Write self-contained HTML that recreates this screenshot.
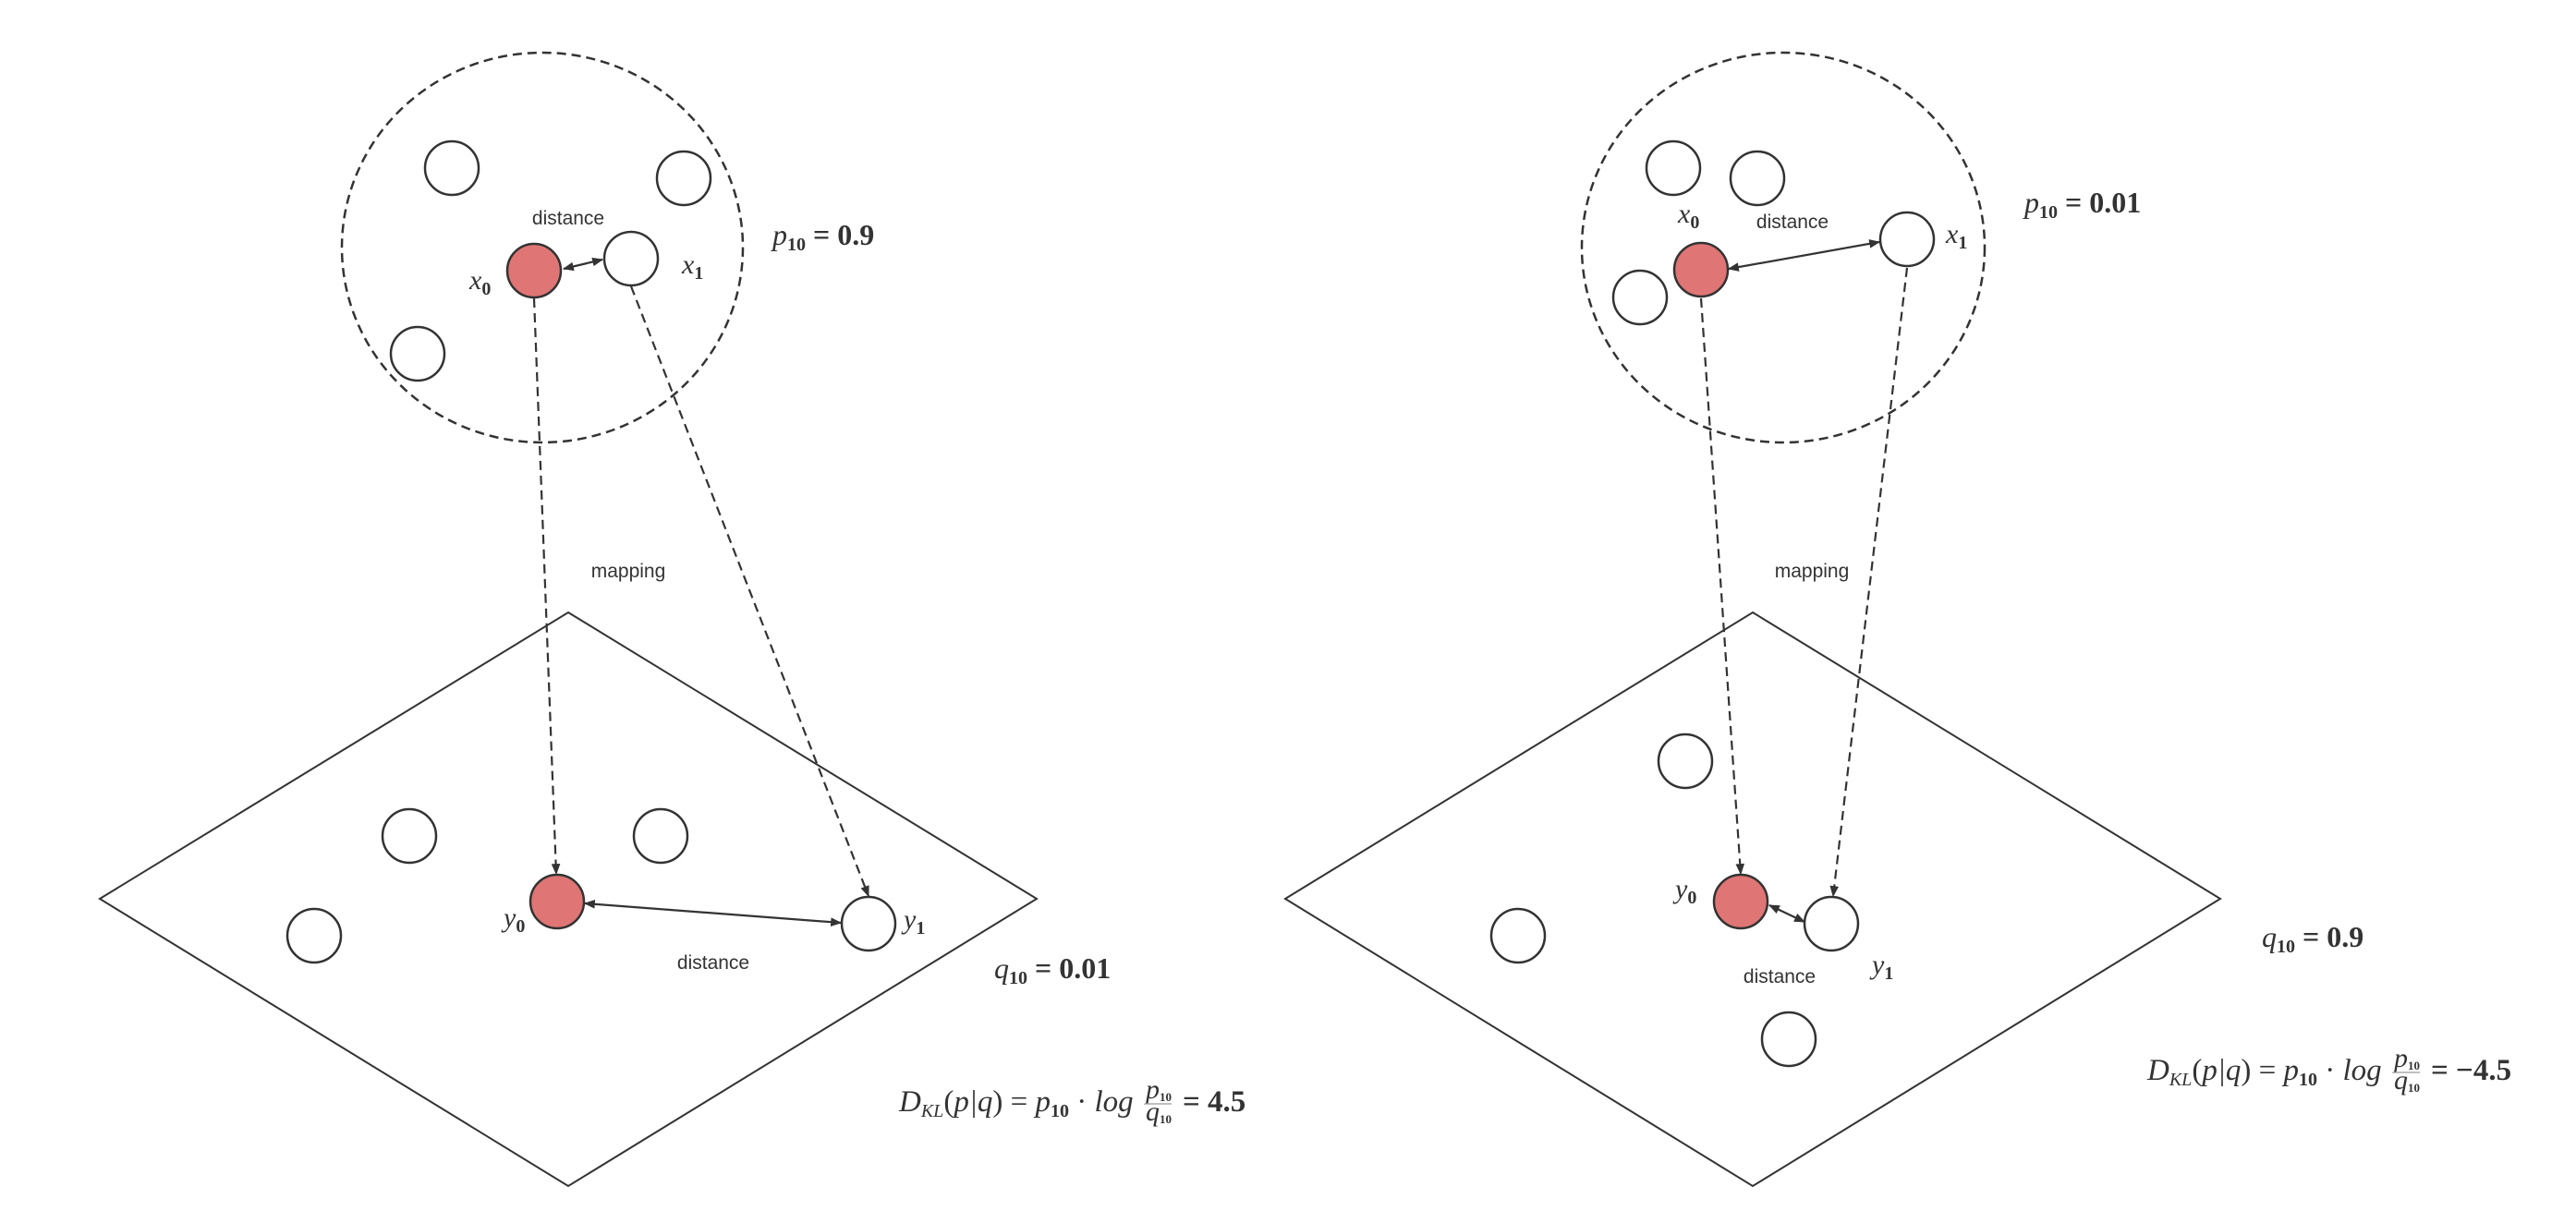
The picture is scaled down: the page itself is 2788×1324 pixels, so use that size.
<!DOCTYPE html>
<html><head><meta charset="utf-8"><style>
html,body{margin:0;padding:0;background:#fff;}
svg{display:block;}
.l{font-family:"Liberation Sans",sans-serif;font-size:21px;fill:#333;}
.m{font-family:"Liberation Serif",serif;font-style:italic;font-size:30px;fill:#333;}
.e{font-size:32px;}
.f{font-size:33px;}
.b{font-style:normal;font-weight:bold;}
.s{font-size:20px;}
</style></head><body>
<svg width="2788" height="1324" viewBox="0 0 2788 1324" xmlns="http://www.w3.org/2000/svg">
<defs>
<marker id="A" viewBox="0 0 10 10" refX="9" refY="5" markerWidth="16" markerHeight="12" orient="auto-start-reverse" markerUnits="userSpaceOnUse"><path d="M0,1 L10,5 L0,9 z" fill="#333"/></marker>
</defs>
<g fill="none" stroke="#333" stroke-width="2.5">
<ellipse cx="587" cy="268" rx="217" ry="211" stroke-dasharray="10,6"/>
<polygon points="615,663 1122,973 615,1284 108,973" stroke-width="2"/>
<ellipse cx="1930" cy="268" rx="218" ry="211" stroke-dasharray="10,6"/>
<polygon points="1897,663 2403,973 1897,1284 1391,973" stroke-width="2"/>
</g>
<g fill="#fff" stroke="#333" stroke-width="2.5">
<circle cx="489" cy="182" r="29"/><circle cx="740" cy="193" r="29"/>
<circle cx="683" cy="280" r="29"/><circle cx="452" cy="383" r="29"/>
<circle cx="443" cy="905" r="29"/><circle cx="715" cy="905" r="29"/><circle cx="340" cy="1013" r="29"/>
<circle cx="940" cy="1000" r="29"/>
<circle cx="603" cy="976" r="29" fill="#e07575"/>
<circle cx="578" cy="293" r="29" fill="#e07575"/>

<circle cx="1811" cy="182" r="29"/><circle cx="1902" cy="193" r="29"/>
<circle cx="2064" cy="259" r="29"/><circle cx="1775" cy="322" r="29"/>
<circle cx="1824" cy="824" r="29"/><circle cx="1643" cy="1013" r="29"/><circle cx="1936" cy="1125" r="29"/>
<circle cx="1982" cy="1000" r="29"/>
<circle cx="1884" cy="976" r="29" fill="#e07575"/>
<circle cx="1841" cy="292" r="29" fill="#e07575"/>
</g>
<g fill="none" stroke="#333" stroke-width="2.2">
<line x1="578" y1="323" x2="602" y2="946" stroke-dasharray="10,6" marker-end="url(#A)"/>
<line x1="683" y1="310" x2="940" y2="970" stroke-dasharray="10,6" marker-end="url(#A)"/>
<line x1="610" y1="291" x2="652" y2="281" marker-start="url(#A)" marker-end="url(#A)"/>
<line x1="633" y1="978" x2="910" y2="999" marker-start="url(#A)" marker-end="url(#A)"/>

<line x1="1841" y1="323" x2="1884" y2="946" stroke-dasharray="10,6" marker-end="url(#A)"/>
<line x1="2064" y1="290" x2="1984" y2="970" stroke-dasharray="10,6" marker-end="url(#A)"/>
<line x1="1871" y1="291" x2="2034" y2="262" marker-start="url(#A)" marker-end="url(#A)"/>
<line x1="1915" y1="980" x2="1953" y2="998" marker-start="url(#A)" marker-end="url(#A)"/>
</g>
<text class="l" x="615" y="243" text-anchor="middle">distance</text>
<text class="l" x="680" y="625" text-anchor="middle">mapping</text>
<text class="l" x="772" y="1049" text-anchor="middle">distance</text>
<text class="m" x="508" y="313">x<tspan class="s b" dy="6">0</tspan></text>
<text class="m" x="738" y="296">x<tspan class="s b" dy="6">1</tspan></text>
<text class="m" x="545" y="1003">y<tspan class="s b" dy="6">0</tspan></text>
<text class="m" x="978" y="1005">y<tspan class="s b" dy="6">1</tspan></text>
<text class="m e" x="836" y="265">p<tspan class="s b" dy="6">10</tspan><tspan class="b" dy="-6"> = 0.9</tspan></text>
<text class="m e" x="1076" y="1059">q<tspan class="s b" dy="6">10</tspan><tspan class="b" dy="-6"> = 0.01</tspan></text>
<text class="m f" x="973" y="1203">D<tspan class="s" dy="6">KL</tspan><tspan dy="-6" font-style="normal">(</tspan>p|q<tspan font-style="normal">) = </tspan>p<tspan class="s b" dy="6">10</tspan><tspan dy="-6" font-style="normal"> · </tspan>log</text>
<text class="m" x="1240" y="1189" font-size="18">p<tspan class="b" font-size="13" dy="3">10</tspan></text>
<line x1="1239" y1="1195" x2="1268" y2="1195" stroke="#999" stroke-width="1.2"/>
<text class="m" x="1240" y="1213" font-size="18">q<tspan class="b" font-size="13" dy="3">10</tspan></text>
<text class="m b f" x="1280" y="1203">= 4.5</text>
<text class="l" x="1940" y="247" text-anchor="middle">distance</text>
<text class="l" x="1961" y="625" text-anchor="middle">mapping</text>
<text class="l" x="1926" y="1064" text-anchor="middle">distance</text>
<text class="m" x="1816" y="241">x<tspan class="s b" dy="6">0</tspan></text>
<text class="m" x="2106" y="263">x<tspan class="s b" dy="6">1</tspan></text>
<text class="m" x="1813" y="972">y<tspan class="s b" dy="6">0</tspan></text>
<text class="m" x="2026" y="1054">y<tspan class="s b" dy="6">1</tspan></text>
<text class="m e" x="2191" y="230">p<tspan class="s b" dy="6">10</tspan><tspan class="b" dy="-6"> = 0.01</tspan></text>
<text class="m e" x="2448" y="1025">q<tspan class="s b" dy="6">10</tspan><tspan class="b" dy="-6"> = 0.9</tspan></text>
<text class="m f" x="2324" y="1169">D<tspan class="s" dy="6">KL</tspan><tspan dy="-6" font-style="normal">(</tspan>p|q<tspan font-style="normal">) = </tspan>p<tspan class="s b" dy="6">10</tspan><tspan dy="-6" font-style="normal"> · </tspan>log</text>
<text class="m" x="2591" y="1155" font-size="18">p<tspan class="b" font-size="13" dy="3">10</tspan></text>
<line x1="2590" y1="1161" x2="2619" y2="1161" stroke="#999" stroke-width="1.2"/>
<text class="m" x="2591" y="1179" font-size="18">q<tspan class="b" font-size="13" dy="3">10</tspan></text>
<text class="m b f" x="2631" y="1169">= −4.5</text>
</svg>
</body></html>
